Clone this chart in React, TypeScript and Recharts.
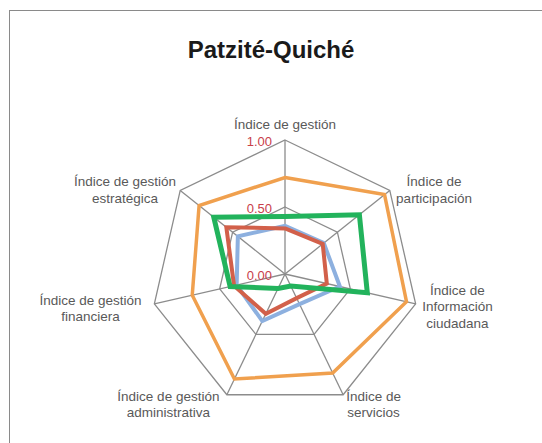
import React from "react";
import {
  PolarAngleAxis,
  PolarGrid,
  PolarRadiusAxis,
  Radar,
  RadarChart,
} from "recharts";

// axis labels, clockwise from the top
const categories = [
  "Índice de gestión",
  "Índice de\nparticipación",
  "Índice de\nInformación\nciudadana",
  "Índice de\nservicios",
  "Índice de gestión\nadministrativa",
  "Índice de gestión\nfinanciera",
  "Índice de gestión\nestratégica",
];

const orangeValues = [0.72, 0.95, 0.93, 0.82, 0.87, 0.71, 0.82];
const blueValues = [0.36, 0.37, 0.42, 0.25, 0.39, 0.37, 0.45];
const redValues = [0.34, 0.36, 0.32, 0.2, 0.33, 0.39, 0.56];
const greenValues = [0.43, 0.71, 0.63, 0.1, 0.12, 0.42, 0.68];

const radiusTicks = [0, 0.5, 1];

const chartData = categories.map((name, i) => ({
  name,
  orange: orangeValues[i],
  blue: blueValues[i],
  red: redValues[i],
  green: greenValues[i],
}));

// where each multi-line label block sits relative to the tick point
const LABEL_SHIFT = [
  { dx: 0, dy: -3 },
  { dx: 38, dy: 1 },
  { dx: 34, dy: -11 },
  { dx: 27, dy: -1 },
  { dx: -55, dy: -1 },
  { dx: -56, dy: -1 },
  { dx: -49, dy: 1 },
];

const FONT = '"Liberation Sans", Arial, Helvetica, sans-serif';

function AngleTick(props: any) {
  const { x, y, payload, index } = props;
  const shift = LABEL_SHIFT[index] || { dx: 0, dy: 0 };
  const lines = String(payload.value).split("\n");
  return (
    <text
      x={x + shift.dx}
      y={y + shift.dy}
      textAnchor="middle"
      fill="#595959"
      fontSize={13.5}
      fontFamily={FONT}
    >
      {lines.map((line, i) => (
        <tspan key={i} x={x + shift.dx} dy={i === 0 ? 0 : 16.5}>
          {line}
        </tspan>
      ))}
    </text>
  );
}

function RadiusTick(props: any) {
  const { x, y, payload } = props;
  return (
    <text
      x={x - 13}
      y={y + 6}
      textAnchor="end"
      fill="#c8404a"
      fontSize={13}
      fontFamily={FONT}
    >
      {Number(payload.value).toFixed(2)}
    </text>
  );
}

export default function App() {
  return (
    <div
      style={{
        position: "absolute",
        left: 0,
        top: 0,
        width: 542,
        height: 443,
        overflow: "hidden",
        background: "#ffffff",
      }}
    >
      <div
        style={{
          position: "absolute",
          left: 9,
          top: 10,
          width: 560,
          height: 460,
          border: "1.5px solid #8a8a8a",
        }}
      />
      <div
        style={{
          position: "absolute",
          left: 0,
          top: 36,
          width: 542,
          textAlign: "center",
          fontFamily: FONT,
          fontWeight: "bold",
          fontSize: 24,
          color: "#1a1a1a",
        }}
      >
        Patzité-Quiché
      </div>
      <div style={{ position: "absolute", left: 0, top: 0 }}>
        <RadarChart
          width={542}
          height={443}
          data={chartData}
          cx={285}
          cy={274}
          outerRadius={134}
          startAngle={90}
          endAngle={-270}
        >
          <PolarGrid
            gridType="polygon"
            stroke="#8c8c8c"
            strokeWidth={1.3}
          />
          <PolarAngleAxis
            dataKey="name"
            tick={<AngleTick />}
            tickLine={false}
            axisLine={false}
          />
          <PolarRadiusAxis
            angle={90}
            domain={[0, 1]}
            ticks={radiusTicks}
            tick={<RadiusTick />}
            axisLine={false}
            tickLine={false}
          />
          <Radar
            dataKey="orange"
            stroke="#f0a04e"
            strokeWidth={3.5}
            fill="none"
            fillOpacity={0}
            strokeLinejoin="miter"
            dot={false}
            isAnimationActive={false}
          />
          <Radar
            dataKey="blue"
            stroke="#8db0df"
            strokeWidth={4}
            fill="none"
            fillOpacity={0}
            strokeLinejoin="miter"
            dot={false}
            isAnimationActive={false}
          />
          <Radar
            dataKey="red"
            stroke="#d2604a"
            strokeWidth={4}
            fill="none"
            fillOpacity={0}
            strokeLinejoin="miter"
            dot={false}
            isAnimationActive={false}
          />
          <Radar
            dataKey="green"
            stroke="#22b35c"
            strokeWidth={5}
            fill="none"
            fillOpacity={0}
            strokeLinejoin="miter"
            dot={false}
            isAnimationActive={false}
          />
        </RadarChart>
      </div>
    </div>
  );
}
